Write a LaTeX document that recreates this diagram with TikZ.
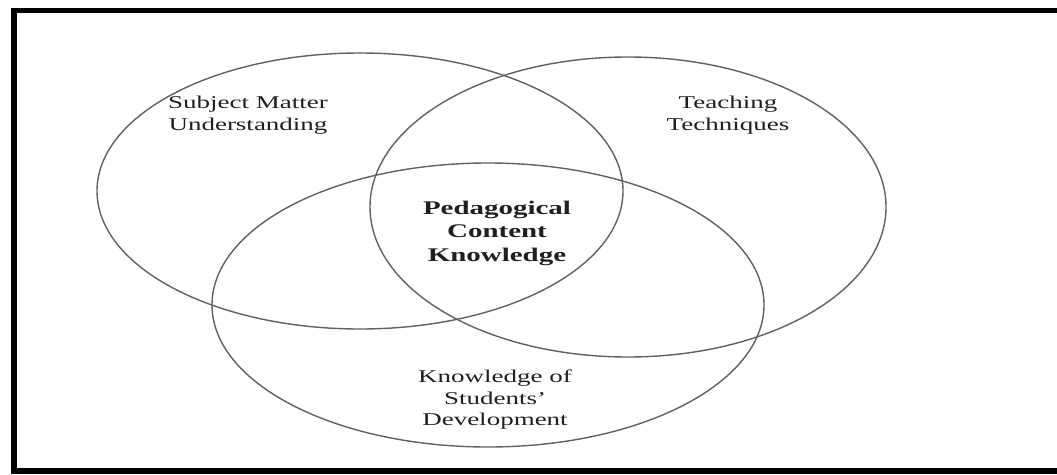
\documentclass[tikz,border=0pt]{standalone}
\usepackage{fontspec}
\setmainfont{Liberation Serif}
\begin{document}
\begin{tikzpicture}[x=1pt,y=-1pt,
  ring/.style={draw=black!62, line width=1.4pt},
  label/.style={align=center, text=black!88, font=\fontsize{18}{21.5}\selectfont, xscale=1.5, transform shape, inner sep=0pt},
  boldlabel/.style={label, font=\fontsize{19.3}{23.5}\selectfont\bfseries}]
\useasboundingbox (0,0) rectangle (1057,474);
\fill[white] (0,0) rectangle (1057,474);
\begin{scope}
\clip (0,0) rectangle (1057,474);
\draw[line width=5.5pt, line join=miter] (1070,10.5) -- (14,10.5) -- (14,471) -- (1070,471);
\end{scope}
\coordinate (cl) at (360,191);
\coordinate (cr) at (628,207);
\coordinate (cb) at (488,305);
\draw[ring] (cl) ellipse [x radius=263pt, y radius=138pt];
\draw[ring] (cr) ellipse [x radius=258pt, y radius=150pt];
\draw[ring] (cb) ellipse [x radius=276pt, y radius=142pt];
\node[label] (smu) at (248,115) {Subject Matter\\Understanding};
\node[label] (tt) at (728,115) {Teaching\\Techniques};
\node[boldlabel] (pck) at (497,233) {Pedagogical\\Content\\Knowledge};
\node[label] (ksd) at (495,400) {Knowledge of\\Students'\\Development};
\end{tikzpicture}
\end{document}
